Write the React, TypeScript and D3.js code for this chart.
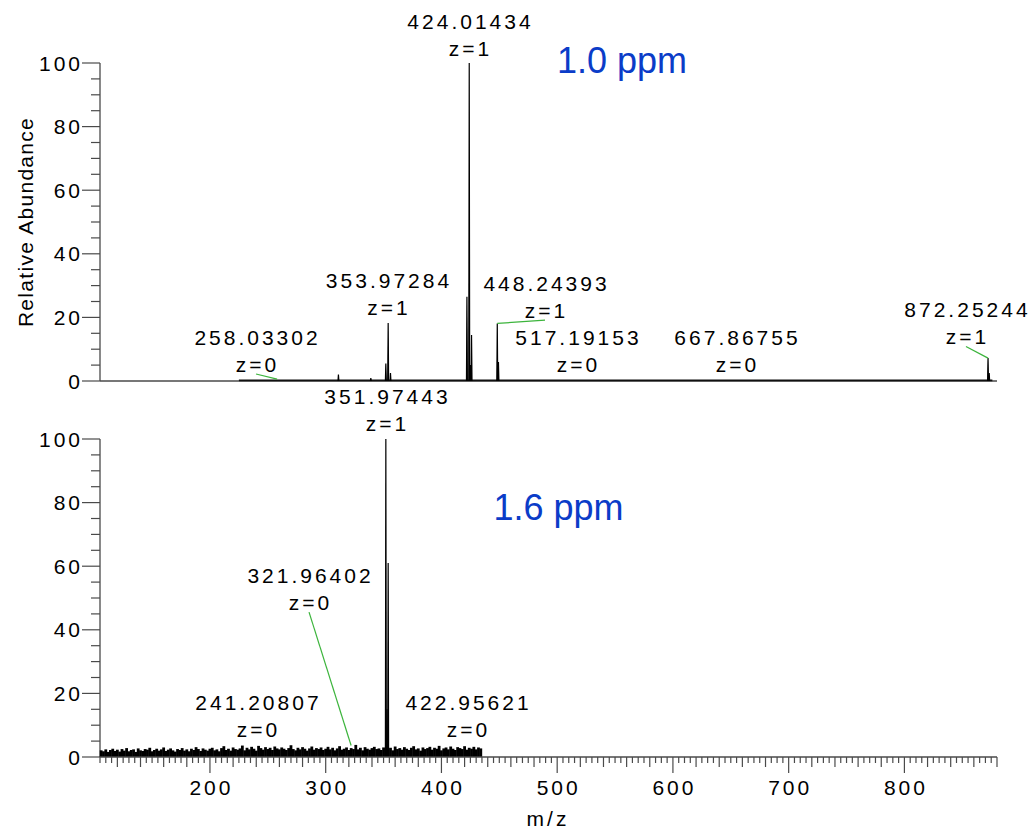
import React from 'react';
import * as d3 from 'd3';

// ---------- data ----------
const X_DOMAIN = [105, 880];
const Y_DOMAIN = [0, 100];
const X_TICK_LABELS = [200, 300, 400, 500, 600, 700, 800];
const Y_TICK_LABELS = [0, 20, 40, 60, 80, 100];

// top spectrum (1.0 ppm)
const TOP_PEAK_MZ = [311.0, 339.0, 351.97, 353.97, 355.97, 422.02, 424.01, 425.01, 426.01, 448.24, 449.25, 872.25, 873.25];
const TOP_PEAK_INT = [2.0, 0.9, 5.5, 18.2, 2.5, 26.5, 100, 5.0, 14.5, 18.1, 6.0, 7.2, 2.5];
const TOP_BASELINE_MZ = [225, 876];

// bottom spectrum (1.6 ppm)
const BOT_PEAK_MZ = [351.97, 352.97, 353.97];
const BOT_PEAK_INT = [100, 15, 61];
const NOISE_START_MZ = 106;
const NOISE_STEP_MZ = 2;
const NOISE_INT = [
  2.1, 1.8, 2.4, 1.6, 2.2, 2.6, 1.9, 2.3, 1.7, 2.5, 2.0, 2.8, 1.8, 2.2, 2.4, 1.6, 2.7, 2.1, 1.9, 2.5,
  2.3, 2.9, 1.8, 2.2, 2.6, 2.0, 2.4, 3.0, 1.9, 2.3, 2.7, 2.1, 1.7, 2.5, 2.2, 2.8, 2.0, 2.4, 1.8, 2.6,
  2.2, 3.1, 2.5, 1.9, 2.7, 2.3, 2.0, 2.6, 2.9, 2.1, 2.4, 1.8, 2.8, 3.4, 2.2, 2.6, 2.0, 3.0, 2.5, 2.3,
  2.7, 3.6, 2.1, 2.9, 2.4, 3.2, 2.6, 2.0, 3.5, 2.8, 2.3, 3.1, 2.5, 2.9, 2.2, 3.3, 2.7, 2.4, 3.0, 2.6,
  2.2, 2.8, 3.7, 2.5, 2.1, 2.9, 2.4, 3.1, 2.6, 2.0, 2.7, 3.3, 2.3, 2.8, 2.5, 3.0, 2.2, 2.6, 3.2, 2.4,
  2.9, 2.1, 2.7, 3.4, 2.3, 2.6, 3.0, 2.2, 2.8, 2.5, 3.8, 2.4, 2.9, 2.1, 3.1, 2.6, 2.3, 2.8, 3.2, 2.5,
  2.7, 2.2, 3.0, 2.4, 2.6, 2.9, 2.1, 3.3, 2.5, 2.8, 2.3, 3.1, 2.6, 2.2, 2.9, 3.4, 2.4, 2.7, 2.0, 3.0,
  2.5, 2.8, 3.2, 2.3, 2.9, 2.6, 3.5, 2.1, 2.7, 3.0, 2.4, 3.3, 2.6, 2.2, 3.1, 2.8, 2.5, 3.4, 2.3, 2.9,
  2.6, 3.2, 2.4, 3.0, 2.7,
];

// annotations
const TOP_LABEL_MASS = ['424.01434', '353.97284', '448.24393', '258.03302', '517.19153', '667.86755', '872.25244'];
const TOP_LABEL_Z = ['z=1', 'z=1', 'z=1', 'z=0', 'z=0', 'z=0', 'z=1'];
const TOP_LEADER_TARGET: ([number, number] | null)[] = [null, null, [448.24, 18.1], [258.03, 0.6], null, null, [872.25, 7.2]];
const BOT_LABEL_MASS = ['351.97443', '321.96402', '241.20807', '422.95621'];
const BOT_LABEL_Z = ['z=1', 'z=0', 'z=0', 'z=0'];
const BOT_LEADER_TARGET: ([number, number] | null)[] = [null, [321.96, 3.6], null, null];
const TOP_PPM = '1.0 ppm';
const BOT_PPM = '1.6 ppm';

// ---------- layout (data-space anchors of label bottom line) ----------
const TOP_LABEL_POS: [number, number][] = [[423.8, 102.2], [353.4, 20.75], [489.5, 19.8], [239.8, 2.83], [517.1, 2.83], [654.5, 2.83], [853.2, 11.5]];
const BOT_LABEL_POS: [number, number][] = [[352.1, 102.5], [285.6, 46.2], [240.6, 6.3], [422.1, 6.3]];
const TOP_PPM_POS: [number, number] = [556.0, 97.0];
const BOT_PPM_POS: [number, number] = [501.1, 74.5];

const W = 1033;
const H = 829;
const FONT = '"Liberation Sans", Arial, Helvetica, sans-serif';
const AXIS_COLOR = '#4a4a4a';
const LEADER_COLOR = '#3cb43c';
const BLUE = '#0b3cc8';
const TEXT_COLOR = '#000';

const x = d3.scaleLinear().domain(X_DOMAIN).range([100, 997]);
const yTop = d3.scaleLinear().domain(Y_DOMAIN).range([381, 63]);
const yBot = d3.scaleLinear().domain(Y_DOMAIN).range([757, 439]);

function YAxis({ y, title }: { y: d3.ScaleLinear<number, number>; title?: string }) {
  const minor = d3.range(0, 101, 5);
  return (
    <g>
      <line x1={x(X_DOMAIN[0])} x2={x(X_DOMAIN[0])} y1={y(100)} y2={y(0)} stroke={AXIS_COLOR} strokeWidth={1.3} />
      {minor.map((v) => (
        <line key={v} x1={x(X_DOMAIN[0]) - (v % 20 === 0 ? 18 : 9)} x2={x(X_DOMAIN[0])} y1={y(v)} y2={y(v)} stroke={AXIS_COLOR} strokeWidth={1.2} />
      ))}
      {Y_TICK_LABELS.map((v) => (
        <text key={v} x={x(X_DOMAIN[0]) - 17} y={y(v) + 7.5} textAnchor="end" fontSize={21} letterSpacing={3} fontFamily={FONT} fill={TEXT_COLOR}>
          {v}
        </text>
      ))}
      {title && (
        <text transform={`translate(33,${(y(0) + y(100)) / 2}) rotate(-90)`} textAnchor="middle" fontSize={21} letterSpacing={1.3} fontFamily={FONT} fill={TEXT_COLOR}>
          {title}
        </text>
      )}
    </g>
  );
}

function Label({ pos, y, mass, z, target }: { pos: [number, number]; y: d3.ScaleLinear<number, number>; mass: string; z: string; target: [number, number] | null }) {
  const cx = x(pos[0]);
  const by = y(pos[1]);
  return (
    <g fontFamily={FONT} fontSize={21} letterSpacing={3} fill={TEXT_COLOR} textAnchor="middle">
      {target && <line x1={cx} y1={by + 2} x2={x(target[0])} y2={y(target[1])} stroke={LEADER_COLOR} strokeWidth={1.2} />}
      <text x={cx + 1.5} y={by - 27}>{mass}</text>
      <text x={cx + 1.5} y={by}>{z}</text>
    </g>
  );
}

function Peaks({ mz, ints, y }: { mz: number[]; ints: number[]; y: d3.ScaleLinear<number, number> }) {
  const line = d3.line<[number, number]>().x((d) => x(d[0])).y((d) => y(d[1]));
  return (
    <g>
      {mz.map((m, i) => (
        <path key={i} d={line([[m - 0.4, 0], [m, ints[i]], [m + 0.4, 0]]) || ''} fill="#000" stroke="#000" strokeWidth={1.2} />
      ))}
    </g>
  );
}

export default function App() {
  const xMinor = d3.range(X_DOMAIN[0], X_DOMAIN[1] + 0.1, 5);
  const noise = NOISE_INT.map((v, i) => [NOISE_START_MZ + i * NOISE_STEP_MZ, v] as [number, number]);
  return (
    <svg width={W} height={H} viewBox={`0 0 ${W} ${H}`} style={{ position: 'absolute', left: 0, top: 0, display: 'block', background: '#fff' }}>
      <rect width={W} height={H} fill="#fff" />
      {/* ---------- top panel ---------- */}
      <YAxis y={yTop} title="Relative Abundance" />
      <line x1={x(X_DOMAIN[0])} x2={x(X_DOMAIN[1])} y1={yTop(0)} y2={yTop(0)} stroke={AXIS_COLOR} strokeWidth={1.6} />
      <line x1={x(TOP_BASELINE_MZ[0])} x2={x(TOP_BASELINE_MZ[1])} y1={yTop(0.2)} y2={yTop(0.2)} stroke="#111" strokeWidth={1.8} />
      <Peaks mz={TOP_PEAK_MZ} ints={TOP_PEAK_INT} y={yTop} />
      {TOP_LABEL_MASS.map((m, i) => (
        <Label key={m} pos={TOP_LABEL_POS[i]} y={yTop} mass={m} z={TOP_LABEL_Z[i]} target={TOP_LEADER_TARGET[i]} />
      ))}
      <text x={x(TOP_PPM_POS[0])} y={yTop(TOP_PPM_POS[1])} textAnchor="middle" fontSize={36} fontFamily={FONT} fill={BLUE}>
        {TOP_PPM}
      </text>

      {/* ---------- bottom panel ---------- */}
      <YAxis y={yBot} />
      <g>
        {noise.map(([m, v], i) => (
          <line key={i} x1={x(m)} x2={x(m)} y1={yBot(0)} y2={yBot(v)} stroke="#000" strokeWidth={2.8} />
        ))}
      </g>
      <Peaks mz={BOT_PEAK_MZ} ints={BOT_PEAK_INT} y={yBot} />
      <line x1={x(X_DOMAIN[0])} x2={x(X_DOMAIN[1])} y1={yBot(0)} y2={yBot(0)} stroke={AXIS_COLOR} strokeWidth={1.4} />
      {xMinor.map((v) => {
        const r = Math.round(v);
        const len = r % 100 === 0 ? 16 : r % 20 === 0 ? 10 : 6;
        return <line key={r} x1={x(r)} x2={x(r)} y1={yBot(0)} y2={yBot(0) + len} stroke={AXIS_COLOR} strokeWidth={1.2} />;
      })}
      {X_TICK_LABELS.map((v) => (
        <text key={v} x={x(v) + 1.5} y={795} textAnchor="middle" fontSize={21} letterSpacing={3} fontFamily={FONT} fill={TEXT_COLOR}>
          {v}
        </text>
      ))}
      <text x={548} y={826} textAnchor="middle" fontSize={21} letterSpacing={3} fontFamily={FONT} fill={TEXT_COLOR}>
        m/z
      </text>
      {BOT_LABEL_MASS.map((m, i) => (
        <Label key={m} pos={BOT_LABEL_POS[i]} y={yBot} mass={m} z={BOT_LABEL_Z[i]} target={BOT_LEADER_TARGET[i]} />
      ))}
      <text x={x(BOT_PPM_POS[0])} y={yBot(BOT_PPM_POS[1])} textAnchor="middle" fontSize={36} fontFamily={FONT} fill={BLUE}>
        {BOT_PPM}
      </text>
    </svg>
  );
}
